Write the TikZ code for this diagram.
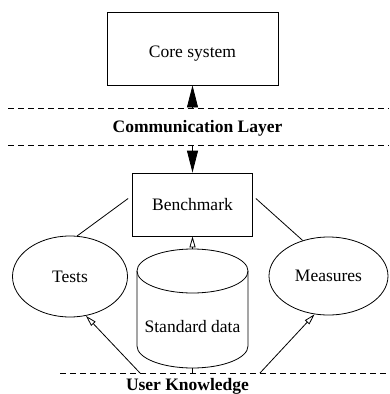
\documentclass[tikz,border=0pt]{standalone}
\usepackage{fontspec}
\setmainfont{Liberation Serif}
\usepackage{tikz}
\usetikzlibrary{positioning,shapes.geometric,arrows.meta}

\begin{document}
\begin{tikzpicture}[x=1pt,y=-1pt,
      box/.style={draw,line width=0.8pt,inner sep=0pt,font=\fontsize{17.5}{20}\selectfont},
      oval/.style={draw,ellipse,line width=0.8pt,inner sep=0pt,font=\fontsize{17.5}{20}\selectfont},
      layer/.style={line width=0.8pt,dash pattern=on 6pt off 4pt},
      title/.style={anchor=base,inner sep=0pt,font=\fontsize{17.5}{20}\selectfont\bfseries},
      link/.style={line width=0.8pt},
      bigarrow/.style={-{Triangle[width=11pt,length=22pt]},line width=0.8pt},
      feed/.style={-{Triangle[open,width=6pt,length=11pt]},line width=0.8pt}]
      \useasboundingbox (0,0) rectangle (389,394);
      \node[box,minimum width=171pt,minimum height=73pt,text height=22pt,text depth=4pt] (core) at (192.5,48.5) {Core system};
      \node[box,minimum width=120pt,minimum height=63pt] (bench) at (192.5,204.5) {Benchmark};
      \node[oval,minimum width=115pt,minimum height=81pt] (tests) at (70,276.5) {Tests};
      \node[oval,minimum width=119pt,minimum height=78pt] (measures) at (328.5,276) {Measures};
      % standard data store
      \coordinate (datatop) at (192.5,249);
      \coordinate (databot) at (192.5,368);
      \draw[link] (137,271) -- (137,346) arc[start angle=180,end angle=360,x radius=55.5pt,y radius=22pt] -- (248,271);
      \draw[link] (192.5,271) ellipse[x radius=55.5pt,y radius=22pt];
      \node[font=\fontsize{17.5}{20}\selectfont] (data) at (192.5,327) {Standard data};
      % layers
      \draw[layer] (8,108) -- (389,108);
      \draw[layer] (8,145) -- (389,145);
      \draw[layer] (60,373) -- (389,373);
      \node[title] (comm) at (197.5,132) {Communication Layer};
      \node[title] (user) at (187.5,390) {User Knowledge};
      \coordinate (up) at (192.5,108);
      \coordinate (down) at (192.5,145);
      \coordinate (utests) at (140,373);
      \coordinate (umeasures) at (260,373);
      \coordinate (udata) at (192.5,373);
      \draw[bigarrow] (up) -- (core.south);
      \draw[bigarrow] (down) -- (bench.north);
      \draw[feed] (datatop) -- (bench.south);
      \draw[feed] (utests) -- (tests.-68);
      \draw[feed] (umeasures) -- (measures.250);
      \draw[link] (databot) -- (udata);
      \draw[link] ([xshift=-4pt,yshift=6pt]bench.west) -- (tests.80);
      \draw[link] ([xshift=3pt,yshift=6pt]bench.east) -- (measures.126);
    \end{tikzpicture}
\end{document}
